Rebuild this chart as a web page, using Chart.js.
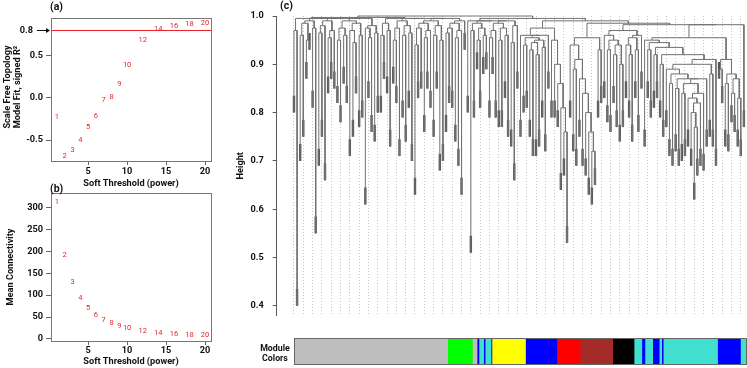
<!DOCTYPE html>
<html>
<head>
<meta charset="utf-8">
<script src="https://cdn.jsdelivr.net/npm/chart.js@4.4.1/dist/chart.umd.min.js"></script>
<style>
  body { margin: 0; background: #fff; width: 747px; height: 368px; position: relative; overflow: hidden;
         font-family: Roboto, "Noto Sans", sans-serif; }
  canvas { position: absolute; }
  .tag { position: absolute; font-weight: bold; font-size: 10.5px; color: #111; line-height: 14px; }
  .mod { position: absolute; font-weight: bold; font-size: 8.8px; color: #111; line-height: 10px; text-align: center; width: 50px; }
  .ytitle { position: absolute; font-weight: bold; font-size: 9.2px; color: #111; line-height: 10px; text-align: center;
            width: 130px; height: 20px; transform: rotate(-90deg); white-space: nowrap; }
</style>
</head>
<body>
<canvas id="chartA" width="230" height="192" style="left:0;top:0"></canvas>
<canvas id="chartB" width="230" height="184" style="left:0;top:184px"></canvas>
<canvas id="chartC" width="517" height="330" style="left:230px;top:0"></canvas>
<canvas id="chartM" width="453" height="27" style="left:294px;top:338px"></canvas>
<div class="tag" style="left:50px;top:0">(a)</div>
<div class="tag" style="left:50px;top:182px">(b)</div>
<div class="tag" style="left:280px;top:-1px">(c)</div>
<div class="ytitle" style="left:-53px;top:77px">Scale Free Topology<br>Model Fit, signed R²</div>
<div class="mod" style="left:250px;top:343px">Module<br>Colors</div>
<script>
// soft threshold panels
const powers = [1, 2, 3, 4, 5, 6, 7, 8, 9, 10, 12, 14, 16, 18, 20];
const sftR2 = [-0.23, -0.69, -0.62, -0.50, -0.35, -0.22, -0.03, 0.01, 0.165, 0.385, 0.675, 0.81, 0.85, 0.87, 0.875];
const meanK = [313, 191, 129, 93.6, 70.8, 54.8, 44, 35.8, 30.4, 25.8, 19, 14.4, 11.4, 9.1, 8.4];
const r2Cutoff = 0.8;
const powerTicks = [5, 10, 15, 20];
const r2Ticks = [-0.5, 0, 0.5];
const kTicks = [0, 50, 100, 150, 200, 250, 300];

// dendrogram: leaf heights left to right, and height where each leaf joins its right neighbour
const leafHeights = [
  0.80,0.40,0.70,0.75,0.87,0.93,0.81,0.55,0.69,0.75,0.66,0.84,0.87,0.85,0.82,0.78,0.86,0.82,0.71,0.75,0.84,0.77,0.79,0.61,0.83,0.76,0.74,0.80,
  0.80,0.87,0.84,0.73,0.86,0.82,0.71,0.79,0.74,0.81,0.70,0.63,0.83,0.85,0.76,0.85,0.81,0.75,0.85,0.68,0.70,0.76,0.82,0.81,0.74,0.69,0.63,0.93,
  0.80,0.51,0.79,0.89,0.81,0.88,0.89,0.79,0.88,0.79,0.77,0.77,0.83,0.75,0.73,0.66,0.85,0.75,0.80,0.81,0.75,0.71,0.71,0.73,0.79,0.72,0.85,0.79,
  0.79,0.77,0.64,0.67,0.53,0.79,0.72,0.69,0.75,0.69,0.67,0.63,0.61,0.65,0.79,0.82,0.83,0.78,0.76,0.82,0.77,0.74,0.77,0.83,0.79,0.74,0.83,0.76,0.85,
  0.73,0.83,0.79,0.81,0.83,0.79,0.75,0.77,0.71,0.69,0.72,0.69,0.70,0.71,0.73,0.69,0.62,0.67,0.69,0.68,0.73,0.75,0.73,0.69,0.87,0.82,0.73,0.72,0.78,0.76,0.73,0.71,0.77
];
const joinHeights = [
  0.97,0.995,0.96,0.985,0.95,0.99,0.975,0.995,0.965,0.98,0.99,0.955,0.97,0.995,0.95,0.975,0.96,0.99,0.97,0.945,0.985,0.96,0.995,0.975,0.955,0.98,0.965,0.997,
  0.96,0.985,0.97,0.995,0.95,0.975,0.99,0.96,0.98,0.965,0.995,0.94,0.975,0.985,0.955,0.97,0.99,0.96,0.98,0.95,0.995,0.965,0.975,0.985,0.955,0.97,0.99,1.0,
  0.99,0.97,0.985,0.95,0.975,0.96,0.99,0.955,0.97,0.985,0.95,0.975,0.96,0.99,0.945,0.98,0.995,0.96,0.94,0.955,0.93,0.945,0.92,0.95,0.935,0.96,0.975,0.95,
  0.90,0.86,0.81,0.76,0.99,0.94,0.89,0.91,0.87,0.84,0.80,0.76,0.72,0.955,0.93,0.985,0.96,0.93,0.95,0.92,0.94,0.90,0.97,0.94,0.92,0.955,0.93,0.96,0.982,
  0.95,0.93,0.945,0.92,0.935,0.90,0.92,0.89,0.86,0.88,0.85,0.87,0.84,0.86,0.83,0.80,0.77,0.82,0.84,0.87,0.90,0.88,0.91,0.955,0.89,0.91,0.86,0.88,0.84,0.87,0.83,0.982
];
const heightTicks = [0.4, 0.5, 0.6, 0.7, 0.8, 0.9, 1.0];

// module colour runs along the leaf order (in leaf units)
const moduleNames = ['grey','green','grey','blue','turquoise','blue','turquoise','blue','yellow','blue','red','brown','black',
  'turquoise','blue','turquoise','blue','turquoise','blue','turquoise','blue','turquoise'];
const moduleRuns = [49.5, 8, 1.5, 0.6, 1.5, 0.5, 1.9, 0.3, 10.8, 10.1, 7.5, 10.5, 6.9, 2.5, 1.0, 2.5, 2.1, 0.8, 0.5, 17.5, 7.4, 2.1];

const colorHex = { grey: '#bebebe', green: '#00ff00', blue: '#0000ff', turquoise: '#40e0d0', yellow: '#ffff00',
  red: '#ff0000', brown: '#a52a2a', black: '#000000' };
const RED = '#e8242c';
const FONT = 'Roboto, "Noto Sans", sans-serif';
const FS = 9.2;

Chart.defaults.font.family = FONT;
Chart.defaults.color = '#111';

const boxPlugin = {
  id: 'box',
  afterDraw(chart) {
    const { ctx, chartArea: a } = chart;
    ctx.save();
    ctx.strokeStyle = '#777';
    ctx.lineWidth = 1;
    ctx.strokeRect(Math.round(a.left) + 0.5, Math.round(a.top) + 0.5, Math.round(a.right - a.left), Math.round(a.bottom - a.top));
    ctx.restore();
  }
};

const powerLabels = {
  id: 'powerLabels',
  afterDatasetsDraw(chart) {
    const { ctx } = chart;
    const meta = chart.getDatasetMeta(0);
    ctx.save();
    ctx.fillStyle = RED;
    ctx.font = '7.5px ' + FONT;
    ctx.textAlign = 'center';
    ctx.textBaseline = 'middle';
    meta.data.forEach((pt, i) => ctx.fillText(String(powers[i]), pt.x, pt.y));
    ctx.restore();
  }
};

const cutoffLine = {
  id: 'cutoffLine',
  afterDatasetsDraw(chart) {
    const { ctx, chartArea: a, scales } = chart;
    const y = Math.round(scales.y.getPixelForValue(r2Cutoff)) + 0.5;
    ctx.save();
    ctx.strokeStyle = RED;
    ctx.lineWidth = 1;
    ctx.beginPath(); ctx.moveTo(a.left, y); ctx.lineTo(a.right, y); ctx.stroke();
    // arrow pointing at the cutoff from outside the axis
    ctx.strokeStyle = '#111';
    ctx.fillStyle = '#111';
    ctx.beginPath(); ctx.moveTo(a.left - 14, y); ctx.lineTo(a.left - 3, y); ctx.stroke();
    ctx.beginPath(); ctx.moveTo(a.left - 1, y); ctx.lineTo(a.left - 5, y - 2.5); ctx.lineTo(a.left - 5, y + 2.5); ctx.closePath(); ctx.fill();
    ctx.font = 'bold ' + FS + 'px ' + FONT;
    ctx.textAlign = 'right';
    ctx.textBaseline = 'middle';
    ctx.fillText(r2Cutoff.toFixed(1), a.left - 18, y);
    ctx.restore();
  }
};

function softPanel(id, yVals, yTicks, yMin, yMax, yTitle, padTop, xAxisH, tickPad, titlePad, fmt, extra) {
  return new Chart(document.getElementById(id), {
    type: 'scatter',
    data: { datasets: [{ data: powers.map((p, i) => ({ x: p, y: yVals[i] })), pointRadius: 0 }] },
    options: {
      responsive: false,
      animation: false,
      layout: { padding: { top: padTop, right: 19, left: 0, bottom: 0 } },
      plugins: { legend: { display: false }, tooltip: { enabled: false } },
      scales: {
        x: {
          type: 'linear', min: 0.24, max: 20.76,
          afterBuildTicks: ax => { ax.ticks = powerTicks.map(v => ({ value: v })); },
          afterFit: ax => { ax.height = xAxisH; },
          grid: { drawOnChartArea: false, tickLength: 4, color: '#666' },
          border: { color: '#777' },
          ticks: { padding: tickPad, maxRotation: 0, autoSkip: false, font: { size: FS, weight: 'bold' } },
          title: { display: true, text: 'Soft Threshold (power)', font: { size: FS, weight: 'bold' }, padding: { top: 0, bottom: titlePad } }
        },
        y: {
          min: yMin, max: yMax,
          afterBuildTicks: ax => { ax.ticks = yTicks.map(v => ({ value: v })); },
          afterFit: ax => { ax.width = 51; },
          grid: { drawOnChartArea: false, tickLength: 5, color: '#666' },
          border: { color: '#777' },
          ticks: { padding: 3, callback: fmt, font: { size: FS, weight: 'bold' } },
          title: { display: yTitle !== '', text: yTitle, font: { size: FS, weight: 'bold' }, padding: { top: 5, bottom: 0 } }
        }
      }
    },
    plugins: [boxPlugin, powerLabels].concat(extra)
  });
}

softPanel('chartA', sftR2, r2Ticks, -0.747, 0.941, '', 18, 31, 1.5, 3,
  v => v.toFixed(1), [cutoffLine]);
softPanel('chartB', meanK, kTicks, -4.6, 333, 'Mean Connectivity', 9, 27, 0.5, 0.5,
  v => String(v), []);

// dendrogram segments built from the leaf order and join heights
const dendroLines = [];
const dendroTips = [];
const tipLen = 0.035;
function buildTree(lo, hi) {
  if (lo === hi) {
    dendroTips.push({ x: lo, y: leafHeights[lo] }, { x: lo, y: leafHeights[lo] + tipLen }, { x: lo, y: null });
    return { x: lo, h: leafHeights[lo] };
  }
  let k = lo;
  for (let i = lo; i < hi; i++) if (joinHeights[i] > joinHeights[k]) k = i;
  const L = buildTree(lo, k);
  const R = buildTree(k + 1, hi);
  const h = joinHeights[k];
  dendroLines.push({ x: L.x, y: L.h }, { x: L.x, y: h }, { x: R.x, y: h }, { x: R.x, y: R.h }, { x: R.x, y: null });
  return { x: (L.x + R.x) / 2, h: h };
}
buildTree(0, leafHeights.length - 1);

new Chart(document.getElementById('chartC'), {
  type: 'line',
  data: {
    datasets: [
      { data: dendroLines, borderColor: '#727272', borderWidth: 1, pointRadius: 0, spanGaps: false, clip: false },
      { data: dendroTips, borderColor: '#555', borderWidth: 2.4, pointRadius: 0, spanGaps: false, clip: false }
    ]
  },
  options: {
    responsive: false,
    animation: false,
    layout: { padding: { top: 16, right: 0, left: 0, bottom: 3 } },
    plugins: { legend: { display: false }, tooltip: { enabled: false } },
    scales: {
      x: {
        type: 'linear', min: -5.57, max: 146,
        afterBuildTicks: ax => {
          const t = [];
          for (let i = 0; i < leafHeights.length; i += 3) t.push({ value: i });
          ax.ticks = t;
        },
        afterFit: ax => { ax.height = 0; },
        ticks: { display: false },
        grid: { color: '#c4c4c4', lineWidth: 1, drawTicks: false },
        border: { display: false, dash: [1, 2] }
      },
      y: {
        min: 0.38, max: 1.0,
        afterBuildTicks: ax => { ax.ticks = heightTicks.map(v => ({ value: v })); },
        afterFit: ax => { ax.width = 46.7; },
        grid: { drawOnChartArea: false, tickLength: 4, color: '#555' },
        border: { color: '#555' },
        ticks: { padding: 9, callback: v => v.toFixed(1), font: { size: FS, weight: 'bold' } },
        title: { display: true, text: 'Height', font: { size: FS, weight: 'bold' }, padding: { top: 5, bottom: 0 } }
      }
    }
  }
});

const barBox = {
  id: 'barBox',
  afterDraw(chart) {
    const { ctx, width, height } = chart;
    ctx.save();
    ctx.strokeStyle = '#666';
    ctx.lineWidth = 1;
    ctx.strokeRect(0.5, 0.5, width - 1, height - 1);
    ctx.restore();
  }
};

new Chart(document.getElementById('chartM'), {
  type: 'bar',
  data: {
    labels: ['Module Colors'],
    datasets: moduleNames.map((m, i) => ({
      data: [moduleRuns[i]], backgroundColor: colorHex[m], borderWidth: 0, barPercentage: 1, categoryPercentage: 1
    }))
  },
  options: {
    indexAxis: 'y',
    responsive: false,
    animation: false,
    layout: { padding: 0 },
    plugins: { legend: { display: false }, tooltip: { enabled: false } },
    scales: {
      x: { stacked: true, display: false, min: 0, max: 146 },
      y: { stacked: true, display: false }
    }
  },
  plugins: [barBox]
});
</script>
</body>
</html>
